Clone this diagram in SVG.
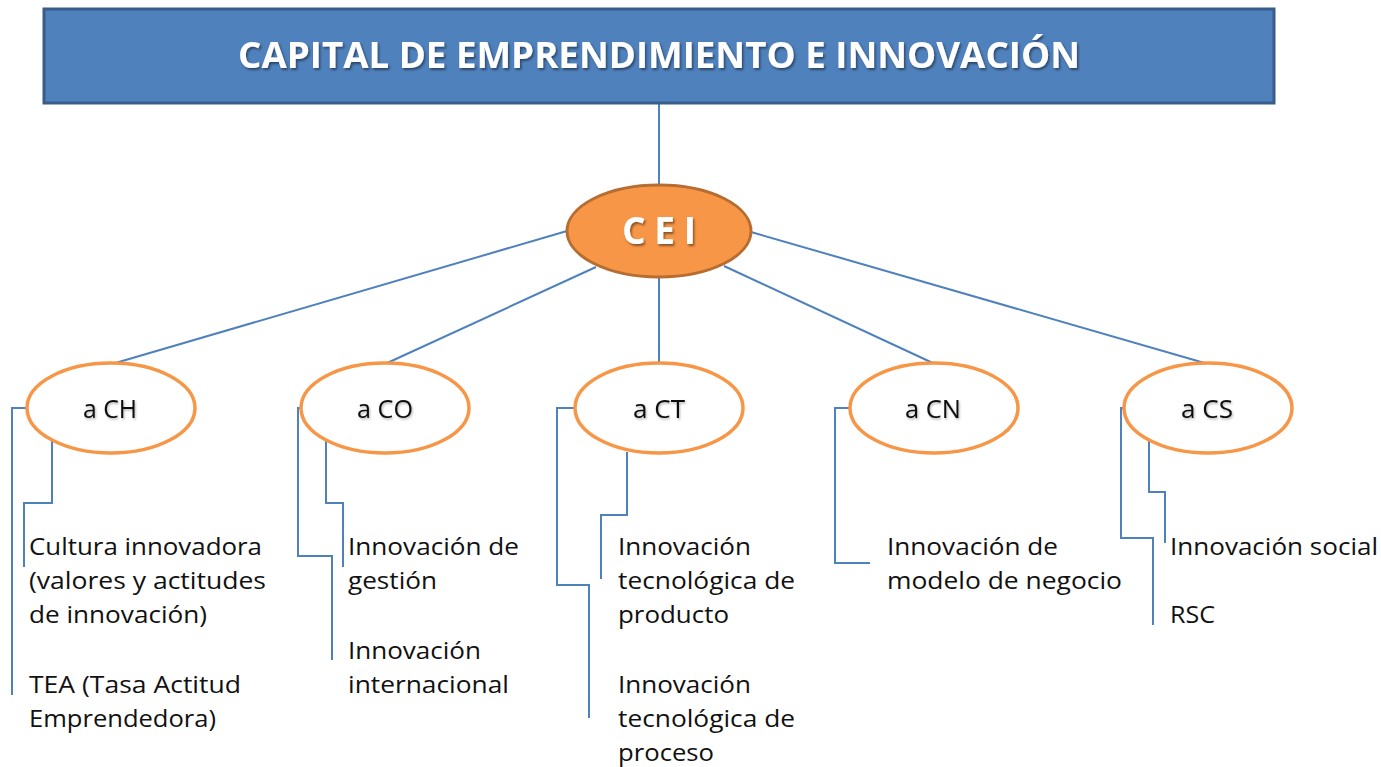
<svg xmlns="http://www.w3.org/2000/svg" width="1381" height="767" viewBox="0 0 1381 767">
<defs>
<filter id="tsh" x="-10%" y="-30%" width="130%" height="160%">
<feDropShadow dx="1.5" dy="2" stdDeviation="1.2" flood-color="#000" flood-opacity="0.45"/>
</filter>
<filter id="lsh" x="-10%" y="-30%" width="130%" height="160%">
<feDropShadow dx="1" dy="1.5" stdDeviation="1.2" flood-color="#000" flood-opacity="0.3"/>
</filter>
</defs>
<style>
.conn{fill:none;stroke:#4F81BD;stroke-width:2}
.sub{fill:#fff;stroke:#F79646;stroke-width:3.5}
.lab{font-family:"Open Sans","Liberation Sans",sans-serif;font-size:25px;fill:#111;text-anchor:middle}
.txt{font-family:"Open Sans","Liberation Sans",sans-serif;font-size:24px;fill:#111}
.head{font-family:"Open Sans","Liberation Sans",sans-serif;font-weight:bold;fill:#fff;text-anchor:middle}
</style>
<rect width="1381" height="767" fill="#fff"/>
<g id="connectors">
<line class="conn" x1="659" y1="103" x2="659" y2="186"/>
<line class="conn" x1="567" y1="231" x2="112" y2="364"/>
<line class="conn" x1="596" y1="267" x2="385" y2="364"/>
<line class="conn" x1="659" y1="277" x2="659" y2="364"/>
<line class="conn" x1="724" y1="266" x2="935" y2="364"/>
<line class="conn" x1="751" y1="232" x2="1208" y2="364"/>
<polyline class="conn" points="27,408 12,408 12,695"/>
<polyline class="conn" points="52,438 52,503 24,503 24,567"/>
<polyline class="conn" points="301,408 298,408 298,556 332,556 332,660"/>
<polyline class="conn" points="326,438 326,503 343,503 343,567"/>
<polyline class="conn" points="575,408 557,408 557,585 589,585 589,718"/>
<polyline class="conn" points="627,452 627,515 601,515 601,579"/>
<polyline class="conn" points="850,408 835,408 835,563 870,563"/>
<polyline class="conn" points="1123,408 1121,408 1121,538 1153,538 1153,625"/>
<polyline class="conn" points="1149,438 1149,492 1165,492 1165,543"/>
</g>
<g id="title">
<rect x="44" y="9" width="1230" height="94" fill="#4F81BD" stroke="#385D8A" stroke-width="3"/>
<text class="head" x="659" y="68" font-size="35" textLength="842" lengthAdjust="spacingAndGlyphs" filter="url(#tsh)">CAPITAL DE EMPRENDIMIENTO E INNOVACIÓN</text>
</g>
<g id="cei">
<ellipse cx="659" cy="231" rx="92" ry="46" fill="#F79646" stroke="#B66D31" stroke-width="3"/>
<text class="head" x="659" y="244" font-size="37" textLength="74" lengthAdjust="spacing" filter="url(#tsh)">C E I</text>
</g>
<g id="ach">
<ellipse class="sub" cx="111" cy="408" rx="84" ry="45"/>
<text class="lab" x="110" y="418" textLength="54" lengthAdjust="spacingAndGlyphs" filter="url(#lsh)">a CH</text>
</g>
<g id="aco">
<ellipse class="sub" cx="385" cy="408" rx="84" ry="45"/>
<text class="lab" x="385" y="418" textLength="56" lengthAdjust="spacingAndGlyphs" filter="url(#lsh)">a CO</text>
</g>
<g id="act">
<ellipse class="sub" cx="659" cy="408" rx="84" ry="45"/>
<text class="lab" x="659" y="418" textLength="52" lengthAdjust="spacingAndGlyphs" filter="url(#lsh)">a CT</text>
</g>
<g id="acn">
<ellipse class="sub" cx="934" cy="408" rx="84" ry="45"/>
<text class="lab" x="933" y="418" textLength="56" lengthAdjust="spacingAndGlyphs" filter="url(#lsh)">a CN</text>
</g>
<g id="acs">
<ellipse class="sub" cx="1208" cy="408" rx="84" ry="45"/>
<text class="lab" x="1207" y="418" textLength="52" lengthAdjust="spacingAndGlyphs" filter="url(#lsh)">a CS</text>
</g>
<g id="ch-items">
<text class="txt" x="29" y="555" textLength="233" lengthAdjust="spacingAndGlyphs">Cultura innovadora</text>
<text class="txt" x="29" y="589" textLength="237" lengthAdjust="spacingAndGlyphs">(valores y actitudes</text>
<text class="txt" x="29" y="623" textLength="178" lengthAdjust="spacingAndGlyphs">de innovación)</text>
<text class="txt" x="29" y="693" textLength="212" lengthAdjust="spacingAndGlyphs">TEA (Tasa Actitud</text>
<text class="txt" x="29" y="727" textLength="187" lengthAdjust="spacingAndGlyphs">Emprendedora)</text>
</g>
<g id="co-items">
<text class="txt" x="348" y="555" textLength="171" lengthAdjust="spacingAndGlyphs">Innovación de</text>
<text class="txt" x="348" y="589" textLength="89" lengthAdjust="spacingAndGlyphs">gestión</text>
<text class="txt" x="348" y="659" textLength="133" lengthAdjust="spacingAndGlyphs">Innovación</text>
<text class="txt" x="348" y="693" textLength="161" lengthAdjust="spacingAndGlyphs">internacional</text>
</g>
<g id="ct-items">
<text class="txt" x="618" y="555" textLength="133" lengthAdjust="spacingAndGlyphs">Innovación</text>
<text class="txt" x="618" y="589" textLength="177" lengthAdjust="spacingAndGlyphs">tecnológica de</text>
<text class="txt" x="618" y="623" textLength="111" lengthAdjust="spacingAndGlyphs">producto</text>
<text class="txt" x="618" y="693" textLength="133" lengthAdjust="spacingAndGlyphs">Innovación</text>
<text class="txt" x="618" y="727" textLength="177" lengthAdjust="spacingAndGlyphs">tecnológica de</text>
<text class="txt" x="618" y="761" textLength="96" lengthAdjust="spacingAndGlyphs">proceso</text>
</g>
<g id="cn-items">
<text class="txt" x="887" y="555" textLength="171" lengthAdjust="spacingAndGlyphs">Innovación de</text>
<text class="txt" x="887" y="589" textLength="235" lengthAdjust="spacingAndGlyphs">modelo de negocio</text>
</g>
<g id="cs-items">
<text class="txt" x="1170" y="555" textLength="208" lengthAdjust="spacingAndGlyphs">Innovación social</text>
<text class="txt" x="1170" y="623" textLength="45" lengthAdjust="spacingAndGlyphs">RSC</text>
</g>
</svg>
